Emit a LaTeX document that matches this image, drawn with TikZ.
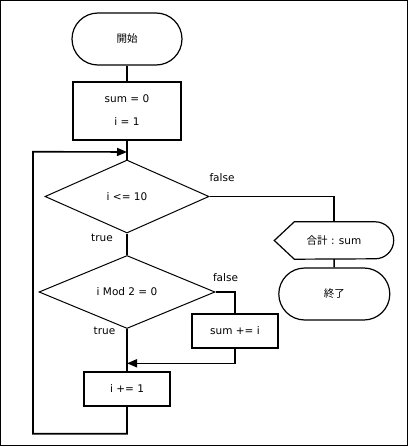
\documentclass[tikz,border=0pt]{standalone}
\usepackage{fontspec}
\setmainfont{DejaVu Sans}
\newfontfamily\jp{Noto Sans CJK JP}
\usetikzlibrary{shapes.geometric,arrows.meta}

\begin{document}
\begin{tikzpicture}[x=1pt, y=-1pt,
    every node/.style={font=\fontsize{10.5pt}{12pt}\selectfont},
    terminal/.style={draw, line width=1.2pt, rounded corners=26pt, minimum width=111pt, minimum height=52pt},
    process/.style={draw, line width=2pt, minimum width=86pt, minimum height=34pt},
    decision/.style={draw, diamond, line width=1pt, inner sep=0pt, minimum height=73pt},
    flow/.style={line width=1.6pt},
    arrow/.style={flow, -{Triangle[length=10pt, width=8pt]}}]
    \useasboundingbox (0,0) rectangle (408,447);
    \draw[line width=1pt] (0.5,0.5) rectangle (407.5,445.5);

    \node[terminal, minimum width=110pt] (start) at (127,39) {{\jp 開始}};
    \node[process, minimum width=108pt, minimum height=58pt, align=center, font=\fontsize{10.5pt}{23pt}\selectfont] (init) at (127,110.5) {sum = 0\\i = 1};
    \node[decision, minimum width=164pt] (cond1) at (127,196.5) {i <= 10};
    \node[minimum width=119pt, minimum height=37pt] (out) at (334,240.5) {{\jp 合計} : sum};
    \draw[line width=1.2pt] (out.west) -- ([xshift=20pt]out.north west) -- ([xshift=-18.5pt]out.north east)
      arc[start angle=90, end angle=-90, radius=18.5pt] -- ([xshift=20pt]out.south west) -- cycle;
    \node[terminal] (stop) at (334.3,294) {{\jp 終了}};
    \node[decision, minimum width=176pt] (cond2) at (127,292) {i Mod 2 = 0};
    \node[process] (add) at (235,330.7) {sum += i};
    \node[process] (inc) at (127,388.7) {i += 1};
    \coordinate (join1) at (127,152);
    \coordinate (join2) at (127,363.3);

    \node (false1) at (222,178) {false};
    \node (true1) at (102,237.5) {true};
    \node (false2) at (225.5,277.7) {false};
    \node (true2) at (104.5,330.7) {true};

    \draw[flow] (start) -- (init);
    \draw[flow] (init) -- (cond1);
    \draw[flow] (cond1.east) -| (out.north);
    \draw[flow] (out) -- (stop);
    \draw[flow] (cond1) -- (cond2);
    \draw[flow] (cond2.east) -| (add.north);
    \draw[flow] (cond2) -- (inc);
    \draw[arrow] (add.south) |- (join2);
    \draw[arrow] (inc.south) -- ++(0,27) -| ++(-94,-282) -- (join1);
  \end{tikzpicture}
\end{document}
